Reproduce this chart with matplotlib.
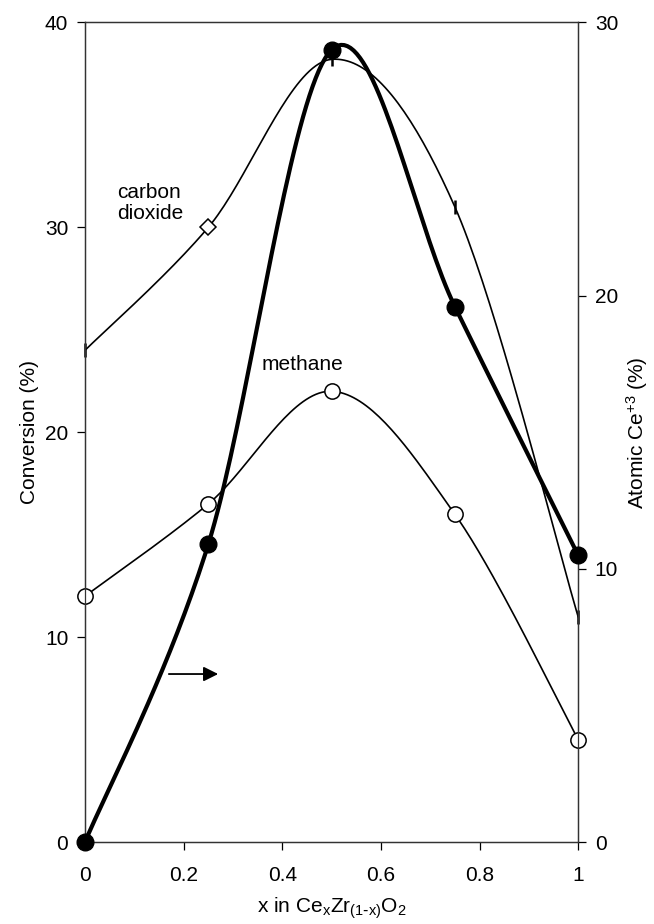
import numpy as np
import matplotlib
matplotlib.use('Agg')
from matplotlib import pyplot as plt

plt.rcParams['font.family'] = 'Liberation Sans'
plt.rcParams['mathtext.default'] = 'regular'
plt.rcParams['font.size'] = 15

# data
x = [0, 0.25, 0.5, 0.75, 1.0]
co2 = [24.0, 30.0, 38.2, 31.0, 11.0]        # conversion (%)
methane = [12.0, 16.5, 22.0, 16.0, 5.0]     # conversion (%)
ce3 = [0.0, 10.9, 29.0, 19.6, 10.5]         # atomic Ce+3 (%), right axis

xticks = [0, 0.2, 0.4, 0.6, 0.8, 1.0]
xticklabels = ['0', '0.2', '0.4', '0.6', '0.8', '1']
left_ticks = [0, 10, 20, 30, 40]
right_ticks = [0, 10, 20, 30]


def smooth(xs, ys, n=40):
    '''
    catmull-rom curve through the points, like the excel "smoothed line"
    '''
    p = np.column_stack([xs, ys]).astype(float)
    p = np.vstack([p[0], p, p[-1]])
    out = []
    for i in range(1, len(p) - 2):
        p0, p1, p2, p3 = p[i - 1], p[i], p[i + 1], p[i + 2]
        t = np.linspace(0, 1, n)[:, None]
        seg = 0.5 * ((2 * p1) + (-p0 + p2) * t +
                     (2 * p0 - 5 * p1 + 4 * p2 - p3) * t**2 +
                     (-p0 + 3 * p1 - 3 * p2 + p3) * t**3)
        out.append(seg)
    out = np.vstack(out)
    return out[:, 0], out[:, 1]


fig = plt.figure(figsize=(6.54, 9.24), dpi=100)
ax = fig.add_axes([0.130, 0.0887, 0.754, 0.887])
ax2 = ax.twinx()

# carbon dioxide
sx, sy = smooth(x, co2)
ax.plot(sx, sy, color='black', lw=1.2)
ax.plot([x[i] for i in (0, 2, 3, 4)], [co2[i] for i in (0, 2, 3, 4)],
        ls='none', marker='|', ms=10, mew=1.8, color='black', clip_on=False)
ax.plot(x[1], co2[1], ls='none', marker='D', ms=8, mfc='white',
        mec='black', mew=1.1, zorder=5)

# methane
sx, sy = smooth(x, methane)
ax.plot(sx, sy, color='black', lw=1.2)
ax.plot(x, methane, ls='none', marker='o', ms=11, mfc='white',
        mec='black', mew=1.1, clip_on=False, zorder=5)

# Ce+3 on right axis
sx, sy = smooth(x, ce3)
ax2.plot(sx, sy, color='black', lw=3.0, clip_on=False)
ax2.plot(x, ce3, ls='none', marker='o', ms=12, color='black', clip_on=False, zorder=5)

ax.text(0.066, 31.2, 'carbon\ndioxide', fontsize=15, ha='left', va='center',
        linespacing=1.1)
ax.text(0.44, 23.3, 'methane', fontsize=15, ha='center', va='center')
ax.annotate('', xy=(0.27, 8.2), xytext=(0.17, 8.2),
            arrowprops=dict(arrowstyle='-|>', color='black', lw=1.3,
                            mutation_scale=22, shrinkA=0, shrinkB=0))

ax.set_xlim(0, 1)
ax.set_ylim(0, 40)
ax2.set_ylim(0, 30)
ax.set_xticks(xticks)
ax.set_xticklabels(xticklabels)
ax.set_yticks(left_ticks)
ax2.set_yticks(right_ticks)

for a in (ax, ax2):
    a.tick_params(direction='out', length=6, width=0.9, pad=6, labelsize=15)
    for s in a.spines.values():
        s.set_linewidth(0.9)
        s.set_color('#333333')
ax.tick_params(axis='x', pad=11)

ax.set_xlabel(r'x in Ce$_x$Zr$_{(1\text{-}x)}$O$_2$', fontsize=15, labelpad=8)
ax.set_ylabel('Conversion (%)', fontsize=15, labelpad=4)
ax2.set_ylabel('Atomic Ce$^{+3}$ (%)', fontsize=15, labelpad=4)

plt.savefig('out.png', dpi=100)
